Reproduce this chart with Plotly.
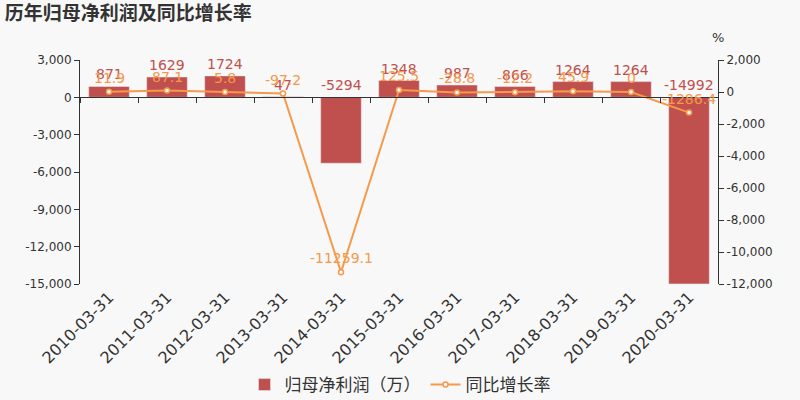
import plotly.graph_objects as go

categories = ["2010-03-31", "2011-03-31", "2012-03-31", "2013-03-31", "2014-03-31",
              "2015-03-31", "2016-03-31", "2017-03-31", "2018-03-31", "2019-03-31", "2020-03-31"]
profit = [871, 1629, 1724, 47, -5294, 1348, 987, 866, 1264, 1264, -14992]
growth = [11.9, 87.1, 5.8, -97.2, -11259.1, 125.5, -28.8, -12.2, 45.9, 0, -1286.4]
growth_labels = ["11.9", "87.1", "5.8", "-97.2", "-11259.1", "125.5", "-28.8", "-12.2", "45.9", "0", "-1286.4"]
left_ticks = [3000, 0, -3000, -6000, -9000, -12000, -15000]
right_ticks = [2000, 0, -2000, -4000, -6000, -8000, -10000, -12000]

BAR = "#c0504d"
LINE = "#f5994a"
FONT = "DejaVu Sans, Noto Sans CJK SC, sans-serif"

fig = go.Figure()
fig.add_trace(go.Bar(x=categories, y=profit, name="归母净利润（万）", marker_color=BAR,
                     width=0.7, yaxis="y", xaxis="x"))
fig.add_trace(go.Scatter(x=categories, y=growth, name="同比增长率", mode="lines+markers",
                         line=dict(color=LINE, width=2),
                         marker=dict(symbol="circle", size=5, color="white",
                                     line=dict(color=LINE, width=1.5)),
                         yaxis="y2", xaxis="x"))
# invisible trace for the zero-line axis with boundary ticks
fig.add_trace(go.Scatter(x=categories, y=[0]*len(categories), xaxis="x2", yaxis="y",
                         mode="markers", marker=dict(opacity=0), showlegend=False, hoverinfo="skip"))

annotations = []
for c, v in zip(categories, profit):
    annotations.append(dict(x=c, y=max(v, 0), xref="x", yref="y", text=str(v), showarrow=False,
                            yanchor="bottom", yshift=2, font=dict(color=BAR, size=14, family=FONT)))
for c, v, t in zip(categories, growth, growth_labels):
    annotations.append(dict(x=c, y=v, xref="x", yref="y2", text=t, showarrow=False,
                            yanchor="bottom", yshift=4, font=dict(color=LINE, size=14, family=FONT)))
annotations.append(dict(x=1.0, y=1.06, xref="paper", yref="paper", text="%", showarrow=False,
                        xanchor="center", yanchor="bottom", font=dict(size=13, color="#333", family=FONT)))

zero_pos = 15000 / 18000

fig.update_layout(
    width=800, height=400,
    paper_bgcolor="#f8f8f8", plot_bgcolor="#f8f8f8",
    margin=dict(l=80, r=82, t=60, b=116, autoexpand=False),
    font=dict(family=FONT, color="#333"),
    title=dict(text="<b>历年归母净利润及同比增长率</b>", x=0.006, xanchor="left",
               y=1 - 13 / 400, yanchor="middle", font=dict(size=19, color="#333", family=FONT)),
    bargap=0.3,
    showlegend=True,
    legend=dict(orientation="h", x=0.5, xanchor="center", xref="container",
                y=1 - 385 / 400, yanchor="middle", yref="container",
                font=dict(size=17, color="#333", family=FONT)),
    xaxis=dict(type="category", showline=False, ticks="", showgrid=False, automargin=False,
               tickangle=-45, tickfont=dict(size=16, color="#333"), range=[-0.5, 10.5]),
    xaxis2=dict(type="category", overlaying="x", anchor="free", position=zero_pos,
                side="bottom", showticklabels=False, showline=True, linecolor="#333", linewidth=1,
                ticks="outside", ticklen=5, tickcolor="#333", tickson="boundaries",
                showgrid=False, range=[-0.5, 10.5], automargin=False),
    yaxis=dict(range=[-15000, 3000], tickvals=left_ticks, ticktext=[f"{v:,}" for v in left_ticks],
               showgrid=False, zeroline=False, showline=True, linecolor="#333",
               ticks="outside", ticklen=5, tickcolor="#333", tickfont=dict(size=12), automargin=False),
    yaxis2=dict(range=[-12000, 2000], tickvals=right_ticks, ticktext=[f"{v:,}" for v in right_ticks],
                overlaying="y", side="right", showgrid=False, zeroline=False,
                showline=True, linecolor="#333", ticks="outside", ticklen=5, tickcolor="#333",
                tickfont=dict(size=12), automargin=False),
    annotations=annotations,
)

fig.write_html("out.html", config={"displayModeBar": False},
               post_script="document.body.style.margin='0';document.body.style.overflow='hidden';")
